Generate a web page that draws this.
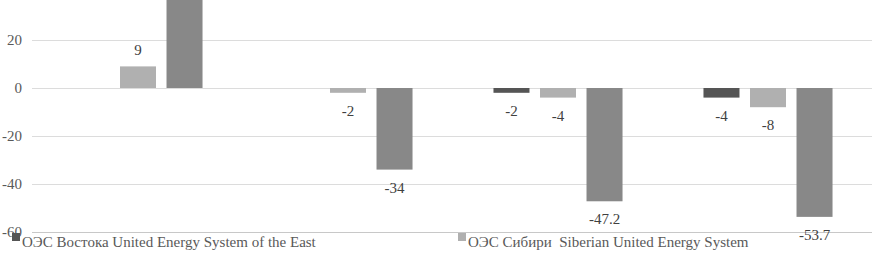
<!DOCTYPE html>
<html>
<head>
<meta charset="utf-8">
<script src="https://cdn.jsdelivr.net/npm/d3@7"></script>
</head>
<body style="margin:0">
<script>
const w = 872;
const h = 255;

// Data (first group's third bar runs off the top)
const categories = ["1", "2", "3", "4"];
const seriesNames = [
    "ОЭС Востока United Energy System of the East",
    "ОЭС Сибири  Siberian United Energy System",
    "ЕЭС России",
];
const eastValues = [0, 0, -2, -4];
const siberiaValues = [9, -2, -4, -8];
const totalValues = [45, -34, -47.2, -53.7];
const seriesValues = [eastValues, siberiaValues, totalValues];
const seriesColors = ["#555555", "#b0b0b0", "#888888"];
const yTicks = [-60, -40, -20, 0, 20];
const legendShown = [0, 1];

const serifFont = "Liberation Serif";

const svg = d3
    .select("body")
    .append("svg")
    .attr("width", w)
    .attr("height", h)
    .style("display", "block")
    .attr("font-family", serifFont);

const y = d3
    .scaleLinear()
    .domain([-60, 40])
    .range([232, -8]);

const x0 = d3
    .scaleBand()
    .domain(categories)
    .range([33, 873]);

const x1 = d3
    .scaleBand()
    .domain(d3.range(seriesNames.length))
    .range([0, x0.bandwidth()])
    .paddingInner(0.226)
    .paddingOuter(0.87);

// gridlines + tick labels
svg
    .append("g")
    .selectAll("line")
    .data(yTicks)
    .enter()
    .append("line")
    .attr("x1", 32)
    .attr("x2", w)
    .attr("y1", d => Math.round(y(d)) + 0.5)
    .attr("y2", d => Math.round(y(d)) + 0.5)
    .style("stroke", d => (d === -60 ? "#c8c8c8" : "#dcdcdc"))
    .style("stroke-width", 1);

svg
    .append("g")
    .selectAll("text")
    .data(yTicks)
    .enter()
    .append("text")
    .attr("x", 22)
    .attr("y", d => y(d) + 5)
    .attr("text-anchor", "end")
    .attr("font-family", serifFont)
    .attr("font-size", "15px")
    .attr("fill", "#595959")
    .text(d => d);

const rows = [];
categories.forEach((c, i) => {
    seriesValues.forEach((vals, s) => {
        rows.push({ cat: c, s, v: vals[i] });
    });
});

const bars = rows.filter(d => d.v !== 0);

svg
    .append("g")
    .selectAll("rect")
    .data(bars)
    .enter()
    .append("rect")
    .attr("x", d => x0(d.cat) + x1(d.s))
    .attr("width", x1.bandwidth())
    .attr("y", d => Math.min(y(d.v), y(0)))
    .attr("height", d => Math.abs(y(d.v) - y(0)))
    .attr("fill", d => seriesColors[d.s]);

// value labels (the one above the clipped bar falls outside the picture)
svg
    .append("g")
    .selectAll("text")
    .data(bars.filter(d => y(d.v) > 20))
    .enter()
    .append("text")
    .attr("x", d => x0(d.cat) + x1(d.s) + x1.bandwidth() / 2)
    .attr("y", d => (d.v < 0 ? y(d.v) + 23 : y(d.v) - 11))
    .attr("text-anchor", "middle")
    .attr("font-family", serifFont)
    .attr("font-size", "15px")
    .attr("fill", "#404040")
    .text(d => d.v);

// legend
const legendX = [12, 458];
const legend = svg
    .append("g")
    .selectAll("g")
    .data(legendShown)
    .enter()
    .append("g")
    .attr("transform", (d, i) => `translate(${legendX[i]},233)`);

legend
    .append("rect")
    .attr("width", 8)
    .attr("height", 8)
    .attr("fill", d => seriesColors[d]);

legend
    .append("text")
    .attr("x", 10)
    .attr("y", 14)
    .attr("font-family", serifFont)
    .attr("font-size", "15px")
    .attr("fill", "#595959")
    .attr("xml:space", "preserve")
    .text(d => seriesNames[d]);
</script>
</body>
</html>
